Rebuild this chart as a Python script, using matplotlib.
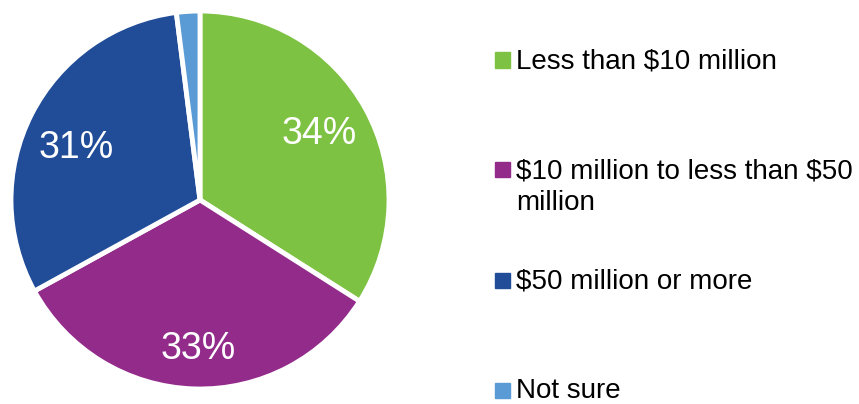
import matplotlib.pyplot as plt
import numpy as np

plt.rcParams['font.family'] = ['Liberation Sans', 'DejaVu Sans']

# data
categories = ['Less than $10 million', '$10 million to less than $50\nmillion',
              '$50 million or more', 'Not sure']
shares = [34, 33, 31, 2]
colors = ['#7DC242', '#922B8A', '#214D98', '#5B9BD5']
pct_labels = ['34%', '33%', '31%', '']

W, H = 859, 404
fig = plt.figure(figsize=(W / 100, H / 100), dpi=100)

# pie axes: center at (200, 200) px from top, radius ~189 px
cx, cy, half = 200, H - 200, 194
ax = fig.add_axes([(cx - half) / W, (cy - half) / H, 2 * half / W, 2 * half / H])
wedges, _ = ax.pie(shares, colors=colors, startangle=90, counterclock=False,
                   radius=1.0, wedgeprops=dict(edgecolor='white', linewidth=3.5))
lim = half / 189
ax.set_xlim(-lim, lim)
ax.set_ylim(-lim, lim)
ax.set_aspect('equal')
ax.axis('off')

# percentage labels inside slices (distance from center, angle nudge in deg)
label_dist = [0.72, 0.79, 0.71, 0.7]
label_nudge = [0, 1, 4, 0]
for w, lab, d, nd in zip(wedges, pct_labels, label_dist, label_nudge):
    if not lab:
        continue
    ang = np.deg2rad((w.theta1 + w.theta2) / 2 + nd)
    ax.text(d * np.cos(ang), d * np.sin(ang), lab, color='white', fontsize=27,
            ha='center', va='center')

# legend drawn by hand
row_y = [60, 170, 280, 390]  # square centers, px from top
sq = 15
line_gap = 32  # px between baselines of wrapped lines
for cat, col, yc in zip(categories, colors, row_y):
    fig.patches.append(plt.Rectangle((495 / W, (H - yc - sq / 2) / H), sq / W, sq / H,
                                     transform=fig.transFigure, color=col))
    base = yc + sq / 2 + 1
    for i, line in enumerate(cat.split('\n')):
        fig.text(516 / W, (H - base - i * line_gap) / H, line, fontsize=20,
                 ha='left', va='baseline', color='black', parse_math=False)

fig.savefig('out.png', dpi=100)
